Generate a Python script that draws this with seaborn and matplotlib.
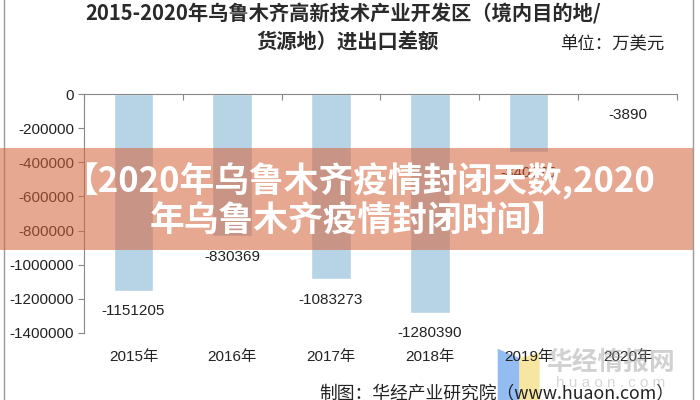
import numpy as np
import pandas as pd
import matplotlib
matplotlib.use('Agg')
import matplotlib.pyplot as plt
from matplotlib.patches import Rectangle, Polygon
import seaborn as sns

# data
years = ['2015年', '2016年', '2017年', '2018年', '2019年', '2020年']
balance = [-1151205, -830369, -1083273, -1280390, -340775, -3890]
y_ticks = [0, -200000, -400000, -600000, -800000, -1000000, -1200000, -1400000]

title_1 = '2015-2020年乌鲁木齐高新技术产业开发区（境内目的地/'
title_2 = '货源地）进出口差额'
unit = '单位：万美元'
banner_1 = '【2020年乌鲁木齐疫情封闭天数,2020'
banner_2 = '年乌鲁木齐疫情封闭时间】'
source = '制图：华经产业研究院（www.huaon.com）'

sns.set_theme(style='white')
plt.rcParams['font.family'] = ['Liberation Sans', 'Noto Sans CJK SC', 'DejaVu Sans']

df = pd.DataFrame({'year': years, 'value': balance})

fig = plt.figure(figsize=(7, 4), dpi=100)
ax = fig.add_axes([0.12, 0.1675, 0.847, 0.5975])
ax.patch.set_alpha(0)

sns.barplot(data=df, x='year', y='value', color='#b7d3e6', saturation=1,
            width=0.4, ax=ax)

ax.set_ylim(-1400000, 0)
ax.set_xlim(-0.5, len(years) - 0.5)
ax.set_yticks(y_ticks)
ax.set_yticklabels([str(v) for v in y_ticks], fontsize=11, color='#222222')
ax.set_xlabel('')
ax.set_ylabel('')
ax.tick_params(axis='y', left=True, length=4, width=0.8, color='#888888', pad=3)
ax.tick_params(axis='x', bottom=False, labelsize=11, pad=6, labelcolor='#222222')

for s in ['right', 'bottom']:
    ax.spines[s].set_visible(False)
for s in ['left', 'top']:
    ax.spines[s].set_color('#888888')
    ax.spines[s].set_linewidth(0.8)

# category separator ticks hanging from the zero line
ax.set_xticks(np.arange(-0.5, len(years)), minor=True)
ax.tick_params(axis='x', which='minor', top=True, bottom=False, direction='in',
               length=4, width=0.8, color='#888888')

# value labels below each bar end
for i, v in enumerate(balance):
    ax.annotate(str(v), (i, v), xytext=(0, -15), textcoords='offset points',
                ha='center', va='center', fontsize=11, color='#222222')

# titles
fig.text(0.49, 0.965, title_1, ha='center', va='center', fontsize=14.6,
         fontweight='bold', color='#2a2a2a', family=['Noto Sans CJK SC'])
fig.text(0.497, 0.895, title_2, ha='center', va='center', fontsize=14.6,
         fontweight='bold', color='#2a2a2a', family=['Noto Sans CJK SC'])
fig.text(0.874, 0.888, unit, ha='center', va='center', fontsize=12.5,
         color='#222222', family=['Noto Sans CJK SC'])

# source line and watermark (logo sits under the tick labels)
fig.text(0.71, 0.014, source, ha='center', va='center', fontsize=12.8,
         color='#222222', family=['Noto Sans CJK SC', 'Liberation Sans'])
fig.patches.append(Polygon([(0.711, 0.0), (0.711, 0.128), (0.742, 0.105), (0.742, 0.0)],
                           closed=True, transform=fig.transFigure, zorder=-1,
                           facecolor='#6fa6ee', alpha=0.75, edgecolor='none'))
fig.patches.append(Polygon([(0.742, 0.0), (0.742, 0.105), (0.771, 0.118), (0.771, 0.0)],
                           closed=True, transform=fig.transFigure, zorder=-1,
                           facecolor='#f6e08a', alpha=0.8, edgecolor='none'))
fig.text(0.872, 0.095, '华经情报网', ha='center', va='center', fontsize=18.5,
         fontweight='bold', color='#9a9a9a', alpha=0.45, family=['Noto Sans CJK SC'])
fig.text(0.872, 0.043, 'h u a o n . c o m', ha='center', va='center', fontsize=11,
         color='#9a9a9a', alpha=0.4)

# outer frame
fig.patches.append(Rectangle((0.005, -0.05), 0.985, 1.1, transform=fig.transFigure,
                             facecolor='none', edgecolor='#9a9a9a', linewidth=1))

# translucent banner overlay
fig.patches.append(Rectangle((0, 0.375), 0.99, 0.255, transform=fig.transFigure,
                             facecolor=(213 / 255, 97 / 255, 55 / 255), alpha=0.55,
                             edgecolor='none', zorder=5))
fig.text(0.513, 0.5475, banner_1, ha='center', va='center', fontsize=25,
         fontweight='bold', color='white', zorder=6,
         family=['Noto Sans CJK SC', 'DejaVu Sans'])
fig.text(0.512, 0.4475, banner_2, ha='center', va='center', fontsize=25,
         fontweight='bold', color='white', zorder=6,
         family=['Noto Sans CJK SC', 'DejaVu Sans'])

fig.savefig('out.png', dpi=100)
